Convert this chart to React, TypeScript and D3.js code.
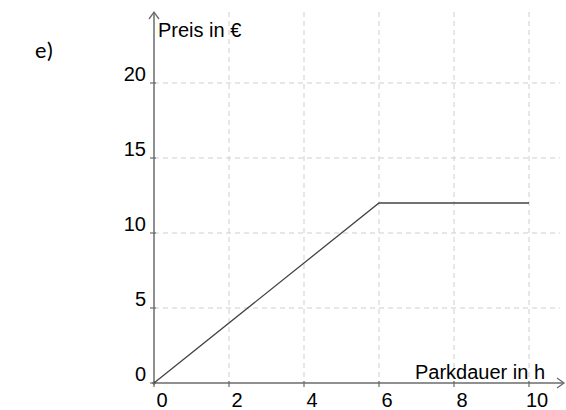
import React from "react";
import * as d3 from "d3";

const hours = [0, 6, 10];
const prices = [0, 12, 12];
const xTicks = [0, 2, 4, 6, 8, 10];
const yTicks = [0, 5, 10, 15, 20];
const xLabel = "Parkdauer in h";
const yLabel = "Preis in €";
const partLabel = "e)";

export default function App() {
  const W = 566, H = 410;
  const x = d3.scaleLinear().domain([0, 10]).range([154, 529]);
  const y = d3.scaleLinear().domain([0, 20]).range([383, 83]);
  const font = "'Liberation Sans', Arial, sans-serif";
  const line = d3.line<number>().x((_, i) => x(hours[i])).y((d) => y(d));
  const axisColor = "#6b6b6b";
  const gridColor = "#cfcfcf";
  const top = 12;
  const right = 564;
  return (
    <svg width={W} height={H} style={{ position: "absolute", left: 0, top: 0, background: "#fff" }}>
      <text x={35} y={58} fontFamily="Calibri, Carlito, 'Open Sans', sans-serif" fontSize={23} fill="#000">{partLabel}</text>
      {xTicks.filter((t) => t !== 0).map((t) => (
        <line key={"gx" + t} x1={x(t)} x2={x(t)} y1={top} y2={y(0)} stroke={gridColor} strokeWidth={1} strokeDasharray="5,4" />
      ))}
      {yTicks.filter((t) => t !== 0).map((t) => (
        <line key={"gy" + t} x1={x(0)} x2={560} y1={y(t)} y2={y(t)} stroke={gridColor} strokeWidth={1} strokeDasharray="5,4" />
      ))}
      <line x1={x(0)} x2={x(0)} y1={y(0) + 2} y2={top} stroke={axisColor} strokeWidth={1.5} />
      <polyline points={`${x(0) - 5},${top + 7} ${x(0)},${top} ${x(0) + 5},${top + 7}`} fill="none" stroke={axisColor} strokeWidth={1.3} />
      <line x1={x(0) - 2} x2={right} y1={y(0)} y2={y(0)} stroke={axisColor} strokeWidth={1.5} />
      <polyline points={`${right - 7},${y(0) - 5} ${right},${y(0)} ${right - 7},${y(0) + 5}`} fill="none" stroke={axisColor} strokeWidth={1.3} />
      {xTicks.map((t) => (
        <line key={"tx" + t} x1={x(t)} x2={x(t)} y1={y(0) - 2} y2={y(0) + 4} stroke={axisColor} strokeWidth={1.2} />
      ))}
      {yTicks.map((t) => (
        <line key={"ty" + t} x1={x(0) - 4} x2={x(0) + 2} y1={y(t)} y2={y(t)} stroke={axisColor} strokeWidth={1.2} />
      ))}
      {xTicks.map((t) => (
        <text key={"lx" + t} x={x(t) + 8} y={407} textAnchor="middle" fontFamily={font} fontSize={20} fill="#000">{t}</text>
      ))}
      {yTicks.map((t) => (
        <text key={"ly" + t} x={146} y={y(t) - 2} textAnchor="end" fontFamily={font} fontSize={20} fill="#000">{t}</text>
      ))}
      <text x={158} y={37} fontFamily={font} fontSize={20} fill="#000">{yLabel}</text>
      <text x={545} y={379} textAnchor="end" fontFamily={font} fontSize={20} fill="#000">{xLabel}</text>
      <path d={line(prices) || ""} fill="none" stroke="#444" strokeWidth={1.3} />
    </svg>
  );
}
